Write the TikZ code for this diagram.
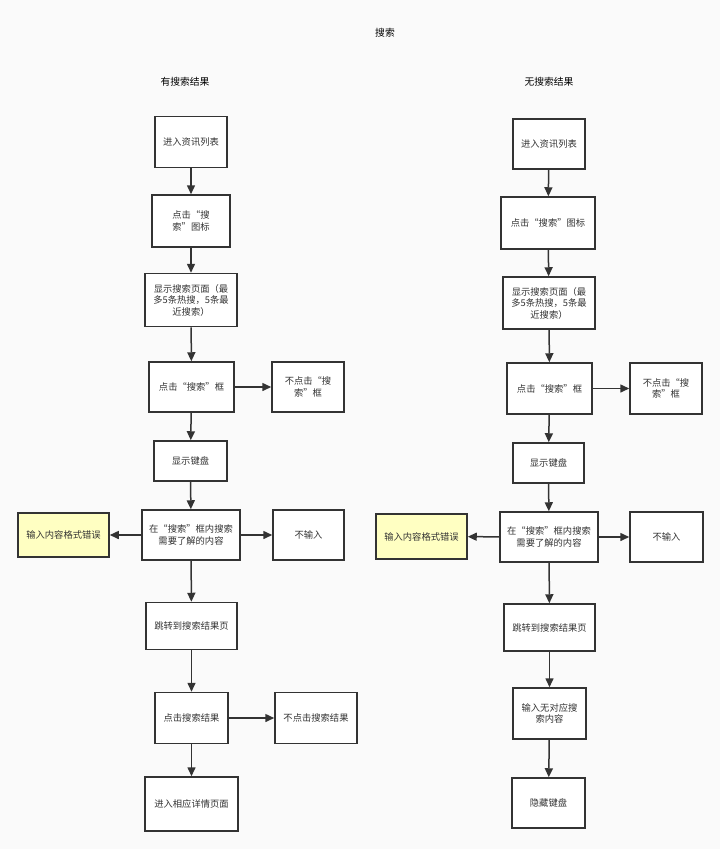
\documentclass[tikz,border=0pt]{standalone}
\usepackage{fontspec}
\newfontfamily\cjk{Noto Sans CJK SC}
\usetikzlibrary{arrows.meta,positioning}
\definecolor{ink}{RGB}{51,51,51}
\definecolor{paper}{RGB}{250,250,250}
\definecolor{warn}{RGB}{255,255,194}
\tikzset{
  box/.style={draw=ink,line width=1.5pt,fill=white,inner sep=2pt,align=center,
    font=\cjk\fontsize{9.3}{11.5}\selectfont,text=ink},
  err/.style={box,fill=warn},
  arr/.style={-{Triangle[length=9pt,width=8pt]},line width=1.5pt,ink},
  head/.style={font=\cjk\fontsize{9.8}{12}\selectfont,text=black},
}
\begin{document}
\begin{tikzpicture}[x=1pt,y=-1pt]
  \fill[paper] (0,0) rectangle (720,849);
  \useasboundingbox (0,0) rectangle (720,849);
  % titles
  \node[head] (title) at (385,33) {搜索};
  \node[head] (hasT) at (185,82) {有搜索结果};
  \node[head] (noT) at (549,82) {无搜索结果};

  % left column: with results
  \node[box,minimum width=72,minimum height=51] (l1) at (191,142) {进入资讯列表};
  \node[box,minimum width=78,minimum height=52] (l2) at (191,221) {点击“搜\\索”图标};
  \node[box,minimum width=92,minimum height=53] (l3) at (191,300) {显示搜索页面（最\\多5条热搜，5条最\\近搜索）};
  \node[box,minimum width=85,minimum height=50] (l4) at (191.5,387) {点击“搜索”框};
  \node[box,minimum width=72,minimum height=50] (l4n) at (308,387) {不点击“搜\\索”框};
  \node[box,minimum width=73,minimum height=40] (l5) at (190.5,461) {显示键盘};
  \node[box,minimum width=98,minimum height=50] (l6) at (191,535) {在“搜索”框内搜索\\需要了解的内容};
  \node[err,minimum width=91,minimum height=44] (l6e) at (63.5,535) {输入内容格式错误};
  \node[box,minimum width=71,minimum height=50] (l6n) at (308.5,535) {不输入};
  \node[box,minimum width=91,minimum height=47] (l7) at (191.5,626) {跳转到搜索结果页};
  \node[box,minimum width=73,minimum height=51] (l8) at (191.5,718) {点击搜索结果};
  \node[box,minimum width=82,minimum height=51] (l8n) at (316,718) {不点击搜索结果};
  \node[box,minimum width=93,minimum height=54] (l9) at (191.5,804) {进入相应详情页面};

  % right column: no results
  \node[box,minimum width=72,minimum height=50] (r1) at (549,144) {进入资讯列表};
  \node[box,minimum width=94,minimum height=52] (r2) at (548,223) {点击“搜索”图标};
  \node[box,minimum width=92,minimum height=52] (r3) at (549,303) {显示搜索页面（最\\多5条热搜，5条最\\近搜索）};
  \node[box,minimum width=85,minimum height=51] (r4) at (549.5,388.5) {点击“搜索”框};
  \node[box,minimum width=72,minimum height=51] (r4n) at (666,388.5) {不点击“搜\\索”框};
  \node[box,minimum width=71,minimum height=40] (r5) at (548.5,463) {显示键盘};
  \node[box,minimum width=98,minimum height=50] (r6) at (549,537) {在“搜索”框内搜索\\需要了解的内容};
  \node[err,minimum width=91,minimum height=45] (r6e) at (421.5,536.5) {输入内容格式错误};
  \node[box,minimum width=73,minimum height=50] (r6n) at (666.5,537) {不输入};
  \node[box,minimum width=91,minimum height=47] (r7) at (549.5,627.5) {跳转到搜索结果页};
  \node[box,minimum width=73,minimum height=51] (r8) at (549.5,713.5) {输入无对应搜\\索内容};
  \node[box,minimum width=73,minimum height=50] (r9) at (548.5,803) {隐藏键盘};

  % connectors
  \foreach \a/\b in {l1/l2,l2/l3,l3/l4,l4/l5,l5/l6,l6/l7,l7/l8,l8/l9,
                     r1/r2,r2/r3,r3/r4,r4/r5,r5/r6,r6/r7,r7/r8,r8/r9}
    \draw[arr] (\a) -- (\b);
  \foreach \a/\b in {l4/l4n,l6/l6e,l6/l6n,l8/l8n,r4/r4n,r6/r6e,r6/r6n}
    \draw[arr] (\a) -- (\b);
\end{tikzpicture}
\end{document}
